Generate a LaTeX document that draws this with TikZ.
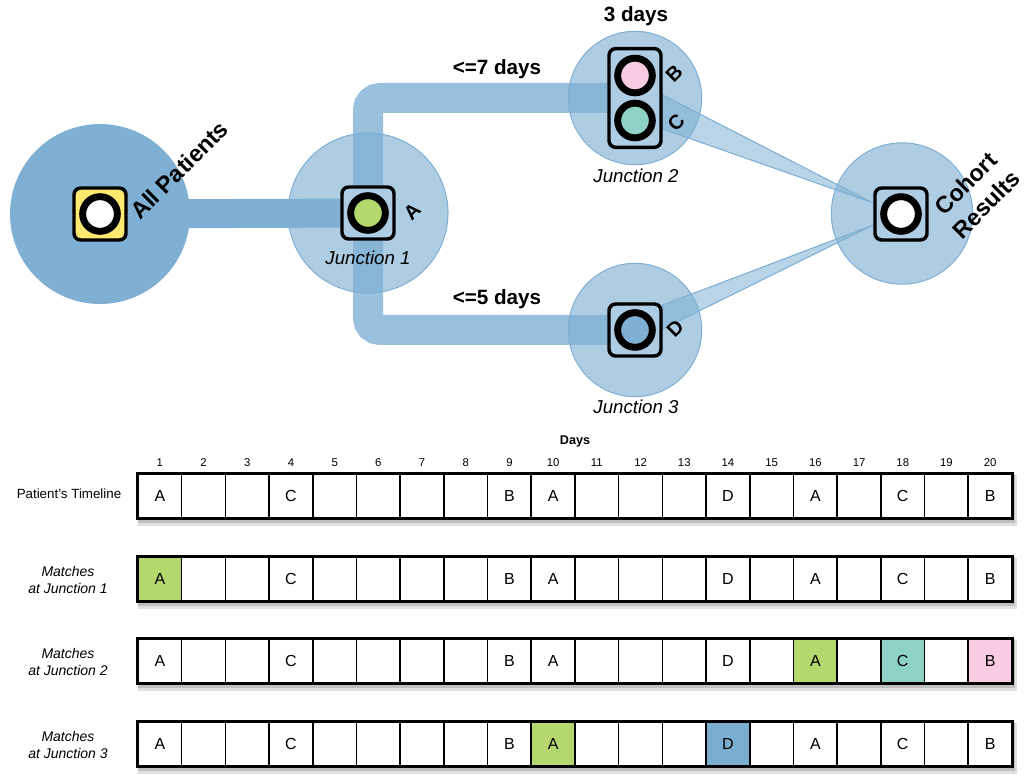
\documentclass[tikz,border=0pt]{standalone}
\usepackage{fontspec}
\setmainfont{Liberation Sans}
\usetikzlibrary{positioning, calc}
\definecolor{poolblue}{RGB}{127,176,211}
\definecolor{junclight}{RGB}{174,205,228}
\definecolor{yellowbox}{RGB}{253,232,112}
\definecolor{matchgreen}{RGB}{180,215,110}
\definecolor{matchteal}{RGB}{141,210,196}
\definecolor{matchpink}{RGB}{250,204,228}
\definecolor{matchblue}{RGB}{122,172,208}
\pgfdeclarelayer{background}
\pgfsetlayers{background,main}
\tikzset{
	pool/.style={
		circle, fill=poolblue, inner sep=0pt
	},
	junction/.style={
		circle, fill=poolblue, fill opacity=0.63, draw=poolblue,
		line width=0.8pt, inner sep=0pt
	},
	iconbox/.style={
		draw=black, line width=2.6pt, rounded corners=5pt, fill=junclight,
		minimum width=39pt, minimum height=39pt, inner sep=0pt
	},
	lamp/.style={
		circle, draw=black, line width=5.2pt, minimum size=26pt, inner sep=0pt
	},
	tag/.style={font=\fontsize{15.5}{18}\selectfont\bfseries, inner sep=0pt},
	rottag/.style={
		font=\fontsize{17.5}{22}\selectfont\bfseries, rotate=45,
		inner sep=0pt, align=center
	},
	lettertag/.style={font=\fontsize{15}{17}\selectfont\bfseries, rotate=45, inner sep=0pt},
	junclabel/.style={font=\fontsize{14}{16}\selectfont\itshape, inner sep=0pt},
	trunk/.style={line width=21.75pt, draw=poolblue},
	route/.style={line width=22.5pt, draw=poolblue, draw opacity=0.8, rounded corners=9pt},
	spoke/.style={fill=poolblue, fill opacity=0.55, draw=poolblue, line width=0.8pt},
	cell/.style={
		draw=black, line width=1.2pt, fill=white,
		minimum width=32.8pt, minimum height=33pt, inner sep=0pt,
		font=\fontsize{12}{14}\selectfont
	},
	daynum/.style={font=\fontsize{8.5}{10}\selectfont, inner sep=0pt},
	rowlabel/.style={font=\fontsize{10.5}{12.5}\selectfont\itshape, align=center, inner sep=0pt},
	hl-2-1/.style={fill=matchgreen},
	hl-3-16/.style={fill=matchgreen},
	hl-3-18/.style={fill=matchteal},
	hl-3-20/.style={fill=matchpink},
	hl-4-10/.style={fill=matchgreen},
	hl-4-14/.style={fill=matchblue}
}

\begin{document}
\begin{tikzpicture}[x=0.75pt, y=-0.75pt]
	\useasboundingbox (0,0) rectangle (1032,777);

	% icon boxes with their lamps
	\node[iconbox, fill=yellowbox] (apbox) at (100,214) {};
	\node[lamp, fill=white] (aplamp) at (apbox) {};
	\node[iconbox] (j1box) at (368,213) {};
	\node[lamp, fill=matchgreen] (j1lamp) at (j1box) {};
	\node[iconbox, minimum height=74pt] (j2box) at (635,98) {};
	\node[lamp, fill=matchpink] (j2lampB) at (635,75.5) {};
	\node[lamp, fill=matchteal] (j2lampC) at (635,120.5) {};
	\node[iconbox] (j3box) at (635,330) {};
	\node[lamp, fill=poolblue] (j3lamp) at (j3box) {};
	\node[iconbox] (cobox) at (901,214) {};
	\node[lamp, fill=white] (colamp) at (cobox) {};

	\begin{pgfonlayer}{background}
		\node[pool, minimum size=135pt] (apc) at (apbox) {};
		\draw[trunk] (apc.center) -- (j1box.center);
		\draw[route] (j1box.center) |- (j2box.west);
		\draw[route] (j1box.center) |- (j3box.west);
		\node[junction, minimum size=120pt] (j1c) at (j1box) {};
		\node[junction, minimum size=100pt] (j2c) at (j2box) {};
		\node[junction, minimum size=100pt] (j3c) at (j3box) {};
		\node[junction, minimum size=106pt] (coc) at (902,213.5) {};
		\path[spoke] ([shift={(0,-3)}]j2box.east) -- ([shift={(0,-11)}]cobox.west)
			-- ([shift={(0,31)}]j2box.east) -- cycle;
		\path[spoke] ([shift={(0,-25)}]j3box.east) -- ([shift={(0,11)}]cobox.west)
			-- ([shift={(0,-1)}]j3box.east) -- cycle;
	\end{pgfonlayer}

	% labels
	\node[rottag, anchor=base west] (aplabel) at (140,221) {All Patients};
	\node[rottag] (colabel) at (976,194) {Cohort\\Results};
	\node[lettertag] (tagA) at (412,212) {A};
	\node[lettertag] (tagB) at (674,74) {B};
	\node[lettertag] (tagC) at (676,123) {C};
	\node[lettertag] (tagD) at (675,329) {D};
	\node[tag] (gap7) at (497,69) {<=7 days};
	\node[tag] (gap5) at (497,299) {<=5 days};
	\node[tag] (win3) at (636,16) {3 days};
	\node[junclabel] (j1label) at (368,258) {Junction 1};
	\node[junclabel] (j2label) at (636,176) {Junction 2};
	\node[junclabel] (j3label) at (636,407) {Junction 3};

	% timelines
	\foreach \r/\yy in {1/496,2/579,3/661,4/744}{
		\foreach \i/\ev in {1/A,2/{},3/{},4/C,5/{},6/{},7/{},8/{},9/B,10/A,11/{},12/{},13/{},14/D,15/{},16/A,17/{},18/C,19/{},20/B}{
			\node[cell, hl-\r-\i/.try] (t\r-\i) at ({138+43.7*(\i-0.5)},\yy) {\ev};
		}
		\draw[line width=2.2pt] (t\r-1.north west) rectangle (t\r-20.south east);
		\begin{pgfonlayer}{background}
			\fill[black, opacity=0.12] ([shift={(1,2)}]t\r-1.north west) rectangle ([shift={(4,7)}]t\r-20.south east);
			\fill[black, opacity=0.15] ([shift={(1,1)}]t\r-1.north west) rectangle ([shift={(2,4)}]t\r-20.south east);
		\end{pgfonlayer}
	}
	\foreach \i in {1,...,20}
		\node[daynum, above=4.5pt of t1-\i] (day\i) {\i};
	\node[daynum, font=\fontsize{9.5}{11}\selectfont\bfseries] (dayshead) at ($(day10)!0.5!(day11)+(0,-22)$) {Days};

	\node[rowlabel, font=\fontsize{10}{12}\selectfont] (lab1) at (69,494) {Patient's Timeline};
	\node[rowlabel] (lab2) at (68,580) {Matches\\at Junction 1};
	\node[rowlabel] (lab3) at (68,662) {Matches\\at Junction 2};
	\node[rowlabel] (lab4) at (68,745) {Matches\\at Junction 3};
\end{tikzpicture}
\end{document}
